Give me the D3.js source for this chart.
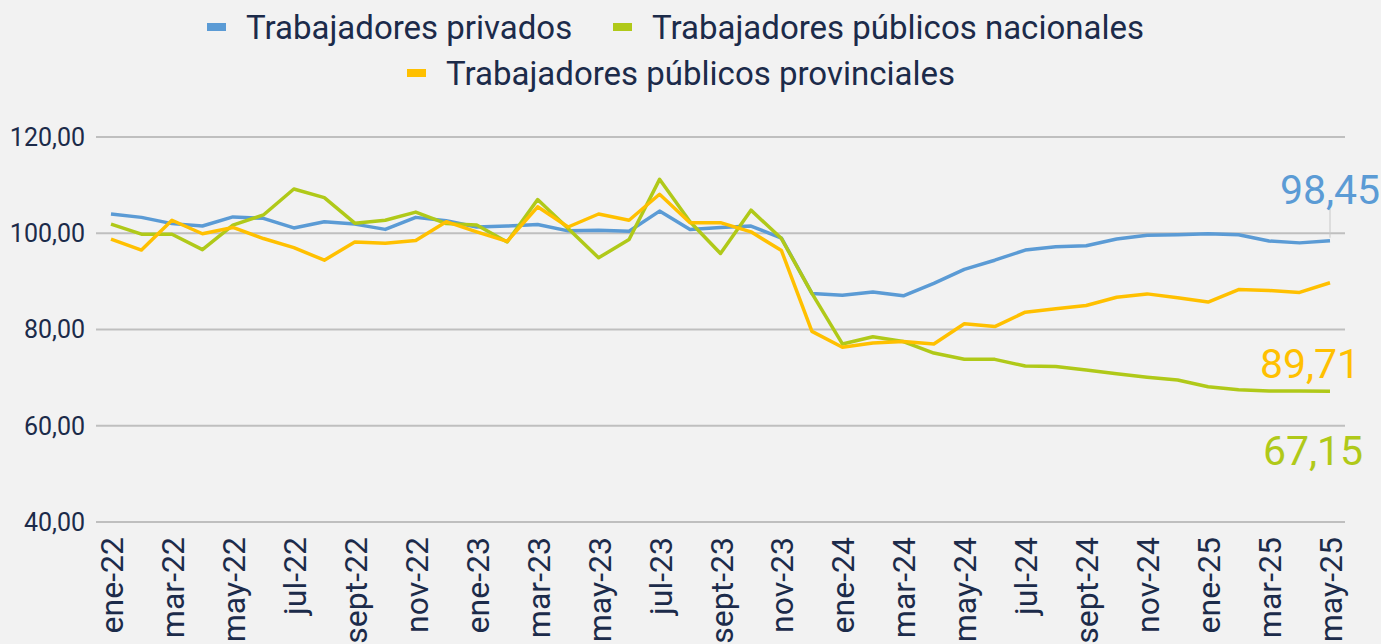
<!DOCTYPE html>
<html>
<head>
<meta charset="utf-8">
<script src="https://cdn.jsdelivr.net/npm/d3@7"></script>
<style>
  body { margin: 0; background: #f2f2f2; }
  svg { display: block; font-family: Roboto, "Noto Sans", sans-serif; }
</style>
</head>
<body>
<div id="chart"></div>
<script>
// months, ene-22 .. may-25
var months = ["ene-22","feb-22","mar-22","abr-22","may-22","jun-22","jul-22","ago-22","sept-22","oct-22","nov-22","dic-22",
  "ene-23","feb-23","mar-23","abr-23","may-23","jun-23","jul-23","ago-23","sept-23","oct-23","nov-23","dic-23",
  "ene-24","feb-24","mar-24","abr-24","may-24","jun-24","jul-24","ago-24","sept-24","oct-24","nov-24","dic-24",
  "ene-25","feb-25","mar-25","abr-25","may-25"];

var privados = [104.0,103.3,102.0,101.5,103.4,103.1,101.1,102.4,101.9,100.8,103.3,102.6,
  101.3,101.5,101.8,100.5,100.6,100.4,104.6,100.8,101.2,101.5,99.0,87.5,
  87.1,87.8,87.0,89.6,92.5,94.4,96.5,97.2,97.4,98.8,99.6,99.7,
  99.9,99.7,98.4,98.0,98.45];

var nacionales = [101.9,99.8,99.8,96.6,101.7,103.8,109.2,107.4,102.1,102.7,104.4,102.0,
  101.7,98.2,107.0,101.0,94.9,98.7,111.2,102.4,95.8,104.8,98.9,87.5,
  77.0,78.5,77.5,75.1,73.8,73.8,72.4,72.3,71.6,70.8,70.1,69.5,
  68.1,67.5,67.2,67.2,67.15];

var provinciales = [98.8,96.5,102.7,99.9,101.2,98.9,97.0,94.4,98.2,97.9,98.5,102.4,
  100.3,98.3,105.5,101.3,104.0,102.7,108.1,102.2,102.2,100.3,96.4,79.6,
  76.3,77.2,77.5,77.0,81.2,80.6,83.6,84.3,85.0,86.7,87.4,86.6,
  85.7,88.3,88.1,87.7,89.71];

var yTicks = [40, 60, 80, 100, 120];

var series = [
  {name: "Trabajadores privados", values: privados, color: "#5b9bd5", label: "98,45"},
  {name: "Trabajadores públicos nacionales", values: nacionales, color: "#b0c919", label: "67,15"},
  {name: "Trabajadores públicos provinciales", values: provinciales, color: "#ffc000", label: "89,71"}
];

var width = 1381, height = 644;
var textColor = "#1c2b4a";

var svg = d3.select("#chart").append("svg")
  .attr("width", width)
  .attr("height", height);

var x = d3.scalePoint()
  .domain(months)
  .range([111, 1330]);

var y = d3.scaleLinear()
  .domain([40, 120])
  .range([522, 137]);

// gridlines
svg.append("g")
  .selectAll("line")
  .data(yTicks)
  .enter().append("line")
  .attr("x1", 96)
  .attr("x2", 1345)
  .attr("y1", function(d) { return y(d); })
  .attr("y2", function(d) { return y(d); })
  .attr("stroke", "#bfbfbf")
  .attr("stroke-width", 2);

// y labels
svg.append("g")
  .selectAll("text")
  .data(yTicks)
  .enter().append("text")
  .attr("x", 85)
  .attr("y", function(d) { return y(d); })
  .attr("dy", "0.35em")
  .attr("text-anchor", "end")
  .attr("fill", textColor)
  .style("font-size", "25px")
  .text(function(d) { return d.toFixed(2).replace(".", ","); });

// x labels, every second month
svg.append("g")
  .selectAll("text")
  .data(months.filter(function(d, i) { return i % 2 == 0; }))
  .enter().append("text")
  .attr("transform", function(d) { return "translate(" + (x(d) + 12) + ",537) rotate(-90)"; })
  .attr("text-anchor", "end")
  .attr("fill", textColor)
  .style("font-size", "32px")
  .text(function(d) { return d; });

// lines
var line = d3.line()
  .x(function(d, i) { return x(months[i]); })
  .y(function(d) { return y(d); });

svg.append("g")
  .selectAll("path")
  .data(series)
  .enter().append("path")
  .attr("d", function(d) { return line(d.values); })
  .attr("fill", "none")
  .attr("stroke", function(d) { return d.color; })
  .attr("stroke-width", 3.5)
  .attr("stroke-linejoin", "round");

// end labels (moved by hand in the original)
var last = months[months.length - 1];
var labelPos = [
  {dx: 0, y: 204},
  {dx: -17, y: 465},
  {dx: -20, y: 378}
];

svg.append("line")
  .attr("x1", x(last))
  .attr("x2", x(last))
  .attr("y1", 209)
  .attr("y2", y(privados[privados.length - 1]) - 3)
  .attr("stroke", "#c8c8c8")
  .attr("stroke-width", 1);

svg.append("g")
  .selectAll("text")
  .data(series)
  .enter().append("text")
  .attr("x", function(d, i) { return x(last) + labelPos[i].dx; })
  .attr("y", function(d, i) { return labelPos[i].y; })
  .attr("text-anchor", "middle")
  .attr("fill", function(d) { return d.color; })
  .style("font-size", "41px")
  .text(function(d) { return d.label; });

// legend
var legendRows = [
  [{s: series[0], x: 207}, {s: series[1], x: 613}],
  [{s: series[2], x: 407}]
];
var legendY = [27, 73];

legendRows.forEach(function(row, r) {
  var g = svg.append("g");
  row.forEach(function(item) {
    g.append("rect")
      .attr("x", item.x)
      .attr("y", legendY[r] - 4)
      .attr("width", 19)
      .attr("height", 8)
      .attr("fill", item.s.color);
    g.append("text")
      .attr("x", item.x + 39)
      .attr("y", legendY[r])
      .attr("dy", "0.35em")
      .attr("fill", textColor)
      .style("font-size", "33px")
      .text(item.s.name);
  });
});
</script>
</body>
</html>
